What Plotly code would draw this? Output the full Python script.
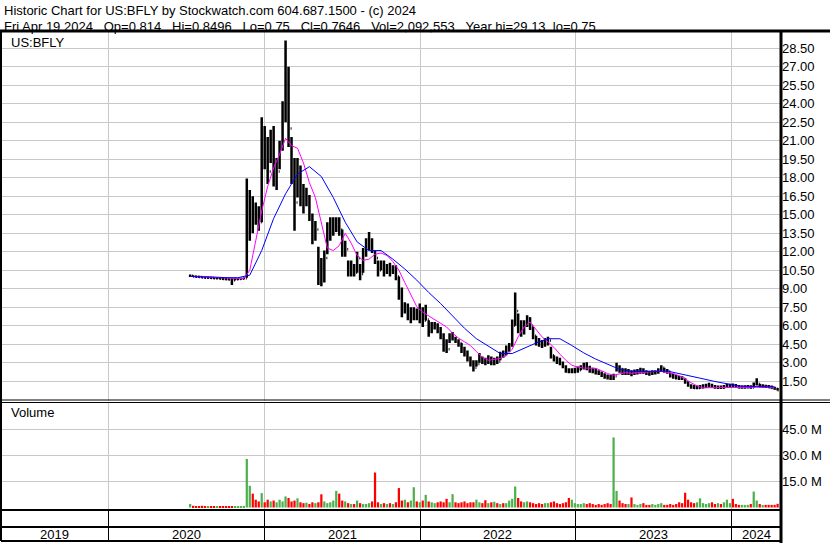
import pandas as pd
import plotly.graph_objects as go

W, H = 830, 543
FONT = "Liberation Sans, Arial, sans-serif"

# weekly bars, first week ends Fri Jul 10 2020
first_week = "2020-07-10"

high = [10.15, 10.10, 10.05, 10.05, 10.00, 10.00, 9.98, 9.95, 9.95, 9.92,
        9.92, 9.90, 9.90, 9.85, 9.85, 9.85, 9.85, 9.90, 9.92, 17.95,
        17.00, 16.50, 16.00, 15.70, 22.90, 22.20, 21.30, 21.90, 22.20, 19.60,
        21.00, 24.20, 29.13, 27.00, 21.30, 19.60, 19.60, 19.00, 17.50, 17.20,
        16.60, 15.10, 14.50, 12.40, 11.50, 12.10, 14.40, 14.80, 14.80, 14.80,
        14.80, 13.80, 12.90, 11.30, 11.30, 11.00, 12.00, 11.00, 12.30, 13.10,
        13.60, 13.10, 12.10, 11.30, 11.30, 11.30, 11.00, 11.10, 10.90, 10.90,
        10.00, 9.10, 7.90, 7.80, 7.50, 7.50, 7.40, 7.80, 7.50, 7.70,
        6.45, 6.30, 6.30, 6.20, 5.90, 5.40, 4.90, 5.40, 5.50, 5.10,
        4.90, 4.60, 4.30, 4.00, 3.50, 3.20, 3.20, 3.80, 3.50, 3.40,
        3.60, 3.50, 3.40, 3.50, 3.90, 4.00, 4.40, 4.60, 6.50, 8.70,
        7.00, 6.45, 6.45, 6.85, 6.70, 5.90, 5.20, 5.00, 4.85, 5.00,
        5.10, 4.30, 3.60, 3.50, 3.40, 3.10, 2.80, 2.55, 2.55, 2.60,
        2.70, 2.80, 3.00, 3.05, 2.75, 2.60, 2.55, 2.40, 2.30, 2.15,
        2.05, 2.00, 2.10, 3.00, 2.80, 2.55, 2.55, 2.50, 2.40, 2.45,
        2.50, 2.60, 2.55, 2.40, 2.35, 2.40, 2.40, 2.55, 2.80, 2.60,
        2.50, 2.20, 2.10, 2.00, 1.95, 1.90, 1.75, 1.50, 1.25, 1.20,
        1.15, 1.20, 1.25, 1.30, 1.38, 1.30, 1.20, 1.15, 1.15, 1.20,
        1.30, 1.30, 1.32, 1.28, 1.20, 1.15, 1.18, 1.20, 1.18, 1.40,
        1.75, 1.30, 1.25, 1.22, 1.20, 1.15, 1.05, 0.95]

low = [9.95, 9.95, 9.90, 9.90, 9.85, 9.85, 9.85, 9.82, 9.80, 9.80,
       9.78, 9.75, 9.70, 9.70, 9.30, 9.70, 9.72, 9.75, 9.78, 9.90,
       12.90, 13.50, 14.20, 13.70, 14.40, 18.70, 17.50, 19.20, 17.30, 17.00,
       18.70, 20.20, 22.50, 20.50, 17.50, 13.70, 16.40, 15.70, 15.10, 15.70,
       14.50, 12.60, 12.90, 9.30, 9.20, 9.50, 11.80, 12.90, 13.30, 13.60,
       13.30, 11.60, 11.60, 10.00, 10.00, 10.00, 10.30, 9.70, 10.30, 11.60,
       12.10, 11.90, 11.00, 10.00, 10.50, 10.00, 10.20, 10.00, 10.20, 9.70,
       8.10, 6.70, 7.00, 6.45, 6.20, 6.45, 6.45, 6.20, 5.90, 6.45,
       5.10, 5.40, 5.70, 5.40, 4.90, 3.90, 3.80, 4.60, 4.80, 4.60,
       4.30, 3.80, 3.50, 3.10, 2.70, 2.30, 2.70, 3.00, 2.90, 2.80,
       2.90, 2.80, 2.80, 2.90, 3.20, 3.40, 3.60, 3.90, 4.30, 6.00,
       5.40, 5.10, 5.30, 5.90, 5.65, 4.90, 4.40, 4.30, 4.20, 4.30,
       4.40, 3.35, 3.10, 2.90, 2.80, 2.55, 2.20, 2.15, 2.15, 2.15,
       2.20, 2.40, 2.45, 2.40, 2.20, 2.15, 2.05, 2.00, 1.85, 1.70,
       1.65, 1.60, 1.60, 2.30, 2.20, 2.00, 2.00, 2.00, 1.90, 2.00,
       2.05, 2.10, 2.10, 2.00, 1.95, 2.00, 2.05, 2.10, 2.30, 2.20,
       2.10, 1.80, 1.70, 1.65, 1.60, 1.60, 1.30, 1.05, 0.90, 0.88,
       0.85, 0.90, 0.92, 0.95, 1.00, 0.98, 0.90, 0.88, 0.88, 0.90,
       0.98, 1.00, 1.00, 0.98, 0.92, 0.90, 0.90, 0.92, 0.90, 1.00,
       1.15, 1.00, 0.98, 0.95, 0.95, 0.90, 0.82, 0.75]

close = [10.05, 10.00, 9.98, 9.95, 9.92, 9.90, 9.90, 9.88, 9.85, 9.85,
         9.82, 9.80, 9.78, 9.75, 9.70, 9.78, 9.80, 9.82, 9.85, 13.50,
         15.20, 15.00, 14.80, 14.40, 20.50, 19.00, 18.50, 20.50, 18.00, 18.50,
         20.50, 23.00, 26.50, 22.00, 18.50, 16.00, 18.50, 17.00, 16.00, 16.30,
         15.00, 13.00, 13.80, 10.50, 10.00, 11.50, 13.80, 14.00, 14.20, 14.30,
         13.80, 12.00, 12.20, 10.50, 10.80, 10.30, 11.50, 10.20, 12.00, 12.80,
         13.00, 12.00, 11.50, 10.50, 10.90, 10.50, 10.60, 10.40, 10.50, 10.00,
         8.50, 7.20, 7.40, 6.80, 7.00, 7.00, 6.80, 7.30, 6.40, 6.50,
         5.60, 5.90, 6.00, 5.80, 5.10, 4.40, 4.10, 4.90, 5.00, 4.80,
         4.60, 4.00, 3.80, 3.40, 3.00, 2.60, 2.90, 3.30, 3.10, 3.00,
         3.30, 3.00, 3.20, 3.10, 3.70, 3.60, 4.20, 4.40, 6.00, 7.20,
         6.00, 5.60, 6.00, 6.60, 6.00, 5.20, 4.60, 4.50, 4.40, 4.70,
         4.80, 3.60, 3.30, 3.10, 3.00, 2.70, 2.40, 2.30, 2.30, 2.40,
         2.40, 2.60, 2.70, 2.60, 2.40, 2.30, 2.20, 2.10, 2.00, 1.80,
         1.75, 1.70, 1.90, 2.60, 2.50, 2.30, 2.20, 2.30, 2.10, 2.20,
         2.30, 2.40, 2.30, 2.20, 2.10, 2.20, 2.30, 2.40, 2.60, 2.40,
         2.30, 1.90, 1.85, 1.80, 1.75, 1.70, 1.40, 1.15, 1.00, 0.95,
         0.95, 1.00, 1.05, 1.10, 1.20, 1.10, 1.00, 1.00, 0.98, 1.05,
         1.15, 1.20, 1.15, 1.10, 1.00, 1.00, 1.05, 1.05, 1.00, 1.30,
         1.30, 1.10, 1.10, 1.05, 1.00, 0.95, 0.90, 0.7646]

# weekly volume, millions of shares
volume = [2.0, 1.0, 0.8, 0.6, 1.0, 0.7, 0.5, 0.6, 0.8, 0.5,
          0.6, 0.7, 0.5, 0.6, 0.5, 0.7, 0.6, 0.8, 0.9, 28.0,
          12.5, 8.0, 4.5, 3.5, 8.3, 3.0, 4.5, 3.5, 4.0, 3.0,
          4.5, 3.5, 6.4, 5.5, 3.5, 4.0, 5.3, 3.0, 2.5, 2.8,
          2.0, 3.0, 2.5, 3.0, 7.6, 3.5, 2.5, 3.0, 4.0, 9.6,
          8.0, 4.0, 3.5, 2.5, 2.0, 2.0, 4.0, 2.5, 2.0, 2.0,
          2.5, 3.5, 20.2, 3.0, 2.0, 2.5, 2.0, 2.5, 2.0, 3.0,
          11.2, 4.0, 4.5, 3.0, 4.0, 11.7, 3.5, 3.0, 4.0, 7.3,
          3.5, 3.0, 2.5, 3.0, 3.5, 3.0, 5.0, 3.0, 7.7, 3.0,
          2.5, 3.0, 3.5, 2.5, 3.0, 3.0, 4.5, 3.0, 2.5, 4.2,
          2.5, 3.0, 3.3, 2.5, 2.0, 2.5, 2.5, 4.0, 5.0, 12.1,
          5.5, 3.5, 3.0, 3.5, 3.0, 2.5, 2.0, 2.5, 2.0, 2.5,
          2.5, 3.0, 3.5, 2.5, 2.0, 2.5, 3.0, 5.5, 4.5, 2.5,
          2.0, 2.0, 2.5, 2.0, 2.5, 2.0, 1.5, 2.0, 1.5, 2.0,
          2.5, 2.0, 40.4, 9.6, 4.0, 2.5, 2.0, 2.0, 5.8, 2.0,
          1.5, 2.0, 2.5, 1.5, 1.5, 2.0, 1.5, 2.0, 2.5, 1.5,
          1.5, 2.0, 1.5, 2.0, 3.0, 2.5, 8.5, 4.5, 3.0, 2.5,
          3.0, 5.3, 2.5, 2.0, 2.5, 3.0, 2.0, 2.5, 2.0, 3.0,
          4.5, 2.5, 5.0, 2.0, 1.5, 1.5, 1.5, 1.5, 2.0, 9.2,
          4.0, 2.0, 1.5, 1.5, 1.5, 1.5, 1.5, 2.1]

# moving averages: fast one every 2 weeks, slow one every 4 weeks
ma_fast = [10.0, 10.0, 9.98, 9.95, 9.92, 9.9, 9.85, 9.8, 9.8, 9.82,
           10.5, 12.9, 15.3, 17.3, 18.8, 19.9, 21.2, 20.6, 20.4, 19.2,
           17.6, 16.4, 14.4, 12.3, 12.1, 12.5, 13.5, 12.7, 11.7, 11.3,
           11.4, 11.8, 11.9, 11.7, 11.2, 10.5, 9.5, 8.5, 7.55, 7.1,
           6.8, 6.5, 6.2, 5.9, 5.4, 5.0, 4.7, 4.4, 3.9, 3.45,
           3.2, 3.25, 3.35, 3.6, 4.1, 5.1, 5.9, 6.3, 5.7, 5.1,
           4.7, 4.25, 3.7, 3.2, 2.8, 2.65, 2.57, 2.55, 2.55, 2.35,
           2.12, 2.0, 2.1, 2.2, 2.15, 2.2, 2.25, 2.28, 2.3, 2.3,
           2.2, 2.12, 1.95, 1.7, 1.38, 1.12, 0.97, 0.98, 1.0, 1.0,
           1.0, 1.0, 1.02, 1.04, 1.05, 1.06, 1.06, 1.03, 0.95]

ma_slow = [10.0, 10.0, 9.95, 9.9, 9.9, 10.1, 12.1, 14.7, 16.7, 18.3,
           18.9, 18.1, 16.4, 14.4, 12.8, 12.1, 12.1, 11.4, 10.6, 9.7,
           8.7, 7.8, 6.8, 5.8, 4.95, 4.35, 3.75, 3.75, 4.2, 4.6,
           4.95, 4.95, 4.4, 3.8, 3.3, 2.9, 2.47, 2.3, 2.27, 2.3,
           2.33, 2.1, 1.9, 1.7, 1.48, 1.27, 1.12, 1.07, 1.05, 1.05]

price_ticks = [1.5, 3.0, 4.5, 6.0, 7.5, 9.0, 10.5, 12.0, 13.5, 15.0, 16.5, 18.0, 19.5,
               21.0, 22.5, 24.0, 25.5, 27.0, 28.5]
volume_ticks = [15, 30, 45]
volume_labels = ["15.0 M", "30.0 M", "45.0 M"]
years = [2019, 2020, 2021, 2022, 2023, 2024]
x_range = ["2019-04-23", "2024-04-27"]

title_1 = "Historic Chart for US:BFLY by Stockwatch.com 604.687.1500 - (c) 2024"
sp = "\u00a0" * 3
title_2 = ("Fri Apr 19 2024" + sp + "Op=0.814" + sp + "Hi=0.8496" + sp + "Lo=0.75" + sp +
           "Cl=0.7646" + sp + "Vol=2,092,553" + sp + "Year hi=29.13" + "\u00a0\u00a0" + "lo=0.75")

weeks = pd.date_range(first_week, periods=len(close), freq="7D")
opens = [close[0]] + close[:-1]
vol_colors = ["#4cb04c" if c >= o else "#ff0000" for o, c in zip(opens, close)]


def px_x(p):
    return p / W


def px_y(p):
    return 1 - p / H


fig = go.Figure()
fig.add_trace(go.Ohlc(x=weeks, open=opens, high=high, low=low, close=close,
                      increasing=dict(line=dict(color="black", width=2.5)),
                      decreasing=dict(line=dict(color="black", width=2.5)),
                      tickwidth=0.3, hoverinfo="skip"))
fig.add_trace(go.Scatter(x=weeks[::2], y=ma_fast, mode="lines",
                         line=dict(color="#ff00ff", width=1), hoverinfo="skip"))
fig.add_trace(go.Scatter(x=weeks[::4], y=ma_slow, mode="lines",
                         line=dict(color="#0000ff", width=1), hoverinfo="skip"))
fig.add_trace(go.Bar(x=weeks, y=volume, marker=dict(color=vol_colors, line=dict(width=0)),
                     xaxis="x2", yaxis="y2", hoverinfo="skip"))
fig.add_trace(go.Scatter(x=[], y=[], xaxis="x3", yaxis="y3"))

dom_x = [px_x(1), px_x(781)]
xcommon = dict(type="date", range=x_range, domain=dom_x, showticklabels=False,
               showgrid=True, gridcolor="#c8c8c8", gridwidth=1, tick0="2020-01-01",
               dtick="M12", ticks="", zeroline=False, showline=False, fixedrange=True)

fig.update_layout(
    width=W, height=H, margin=dict(l=0, r=0, t=0, b=0),
    paper_bgcolor="white", plot_bgcolor="white", showlegend=False, bargap=0.25,
    font=dict(family=FONT, size=13, color="black"),
    xaxis=dict(xcommon, anchor="y", rangeslider=dict(visible=False)),
    xaxis2=dict(xcommon, anchor="y2", matches="x"),
    xaxis3=dict(xcommon, anchor="y3", matches="x", gridcolor="black"),
    yaxis=dict(domain=[px_y(401), px_y(32)], range=[-0.1, 29.82], side="right",
               tickvals=price_ticks, tickformat=".2f", showgrid=True, gridcolor="#c8c8c8",
               zeroline=False, ticks="", anchor="x", fixedrange=True,
               tickfont=dict(size=13)),
    yaxis2=dict(domain=[px_y(509), px_y(403)], range=[-0.87, 60.3], side="right",
                tickvals=volume_ticks, ticktext=volume_labels, showgrid=True,
                gridcolor="#c8c8c8", zeroline=False, ticks="", anchor="x2", fixedrange=True,
                tickfont=dict(size=13)),
    yaxis3=dict(domain=[px_y(541), px_y(511)], range=[0, 1], showticklabels=False,
                showgrid=False, zeroline=False, anchor="x3", fixedrange=True),
)

# frame lines
lines = [
    (0, 31, 830, 31, 3), (1, 31, 1, 541, 2), (781, 31, 781, 543, 3),
    (0, 400, 830, 400, 1), (0, 402.5, 830, 402.5, 1),
    (1, 510, 781, 510, 2), (1, 527, 781, 527, 2), (1, 541, 781, 541, 2),
]
for x0, y0, x1, y1, w in lines:
    fig.add_shape(type="line", xref="paper", yref="paper", x0=px_x(x0), y0=px_y(y0),
                  x1=px_x(x1), y1=px_y(y1), line=dict(color="black", width=w))

fig.add_annotation(text=title_1, xref="paper", yref="paper", x=px_x(2), y=px_y(1),
                   xanchor="left", yanchor="top", showarrow=False, font=dict(size=13))
fig.add_annotation(text=title_2, xref="paper", yref="paper", x=px_x(2), y=px_y(16.5),
                   xanchor="left", yanchor="top", showarrow=False, font=dict(size=13))
fig.add_annotation(text="US:BFLY", xref="paper", yref="paper", x=px_x(9), y=px_y(42),
                   xanchor="left", yanchor="middle", showarrow=False, font=dict(size=13))
fig.add_annotation(text="Volume", xref="paper", yref="paper", x=px_x(9), y=px_y(413),
                   xanchor="left", yanchor="middle", showarrow=False, font=dict(size=13))

# year labels centred on the visible part of each year
x0, x1 = pd.Timestamp(x_range[0]), pd.Timestamp(x_range[1])
for yr in years:
    a = max(x0, pd.Timestamp(f"{yr}-01-01"))
    b = min(x1, pd.Timestamp(f"{yr + 1}-01-01"))
    fig.add_annotation(text=str(yr), xref="x3", yref="paper", x=a + (b - a) / 2,
                       y=px_y(534.5), xanchor="center", yanchor="middle",
                       showarrow=False, font=dict(size=13))

fig.write_html("out.html", config={"displayModeBar": False},
               post_script="document.body.style.margin='0';")
